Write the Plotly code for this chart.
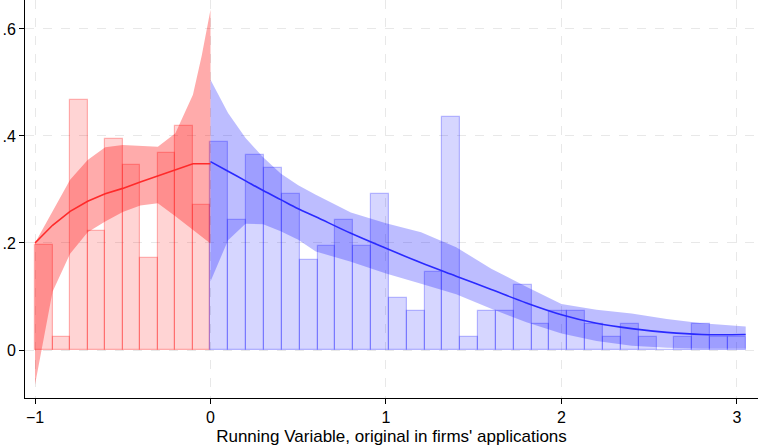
import numpy as np
import plotly.graph_objects as go

# ---- data ----
left_bin_start = -1.0
left_bin_width = 0.1
left_bars = [0.197, 0.024, 0.468, 0.222, 0.394, 0.345, 0.172, 0.369, 0.418, 0.271]

right_bin_start = 0.0
right_bin_width = 3.05 / 30
right_bars = [0.389, 0.242, 0.364, 0.340, 0.291, 0.169, 0.194, 0.243, 0.194, 0.291,
              0.097, 0.073, 0.146, 0.436, 0.024, 0.073, 0.073, 0.121, 0.049, 0.073,
              0.073, 0.049, 0.024, 0.049, 0.024, 0.0, 0.024, 0.049, 0.024, 0.024]

red_x = [-1.0, -0.9, -0.8, -0.7, -0.6, -0.5, -0.4, -0.3, -0.2, -0.1, -0.05, 0.0]
red_fit = [0.200, 0.233, 0.259, 0.278, 0.292, 0.302, 0.314, 0.325, 0.337, 0.348, 0.348, 0.348]
red_hi = [0.200, 0.259, 0.318, 0.355, 0.379, 0.383, 0.381, 0.380, 0.405, 0.477, 0.550, 0.636]
red_lo = [-0.065, 0.109, 0.180, 0.220, 0.240, 0.258, 0.270, 0.274, 0.250, 0.224, 0.212, 0.199]

blue_x = [0.0, 0.1, 0.2, 0.3, 0.4, 0.5, 0.6, 0.8, 1.0, 1.2, 1.4, 1.6, 1.8, 2.0, 2.2, 2.4, 2.6, 2.8, 3.05]
blue_fit = [0.352, 0.334, 0.316, 0.298, 0.281, 0.264, 0.249, 0.218, 0.190, 0.163, 0.138, 0.113,
            0.088, 0.066, 0.050, 0.040, 0.033, 0.029, 0.029]
blue_hi = [0.505, 0.443, 0.396, 0.360, 0.330, 0.308, 0.290, 0.257, 0.237, 0.220, 0.192, 0.152,
           0.118, 0.086, 0.075, 0.068, 0.058, 0.050, 0.044]
blue_lo = [0.128, 0.205, 0.236, 0.235, 0.222, 0.206, 0.184, 0.165, 0.143, 0.124, 0.104, 0.077,
           0.052, 0.031, 0.017, 0.008, 0.004, 0.003, 0.003]

x_ticks = [-1, 0, 1, 2, 3]
y_ticks = [0, 0.2, 0.4, 0.6]
y_ticktext = ["0", ".2", ".4", ".6"]
x_title = "Running Variable, original in firms' applications"

# ---- figure ----
left_centers = left_bin_start + left_bin_width * (np.arange(len(left_bars)) + 0.5)
right_centers = right_bin_start + right_bin_width * (np.arange(len(right_bars)) + 0.5)

fig = go.Figure()

fig.add_trace(go.Bar(x=left_centers, y=left_bars, width=left_bin_width,
                     marker=dict(color="rgba(255,0,0,0.17)",
                                 line=dict(color="rgba(255,0,0,0.28)", width=1.2)),
                     showlegend=False))
fig.add_trace(go.Bar(x=right_centers, y=right_bars, width=right_bin_width,
                     marker=dict(color="rgba(0,0,255,0.16)",
                                 line=dict(color="rgba(0,0,255,0.25)", width=1.2)),
                     showlegend=False))

fig.add_trace(go.Scatter(x=red_x + red_x[::-1], y=red_hi + red_lo[::-1], fill="toself",
                         fillcolor="rgba(255,0,0,0.33)", line=dict(width=0),
                         mode="lines", showlegend=False, hoverinfo="skip"))
fig.add_trace(go.Scatter(x=blue_x + blue_x[::-1], y=blue_hi + blue_lo[::-1], fill="toself",
                         fillcolor="rgba(0,0,255,0.26)", line=dict(width=0),
                         mode="lines", showlegend=False, hoverinfo="skip"))

fig.add_trace(go.Scatter(x=red_x, y=red_fit, mode="lines",
                         line=dict(color="#ff2a2a", width=1.6), showlegend=False))
fig.add_trace(go.Scatter(x=blue_x, y=blue_fit, mode="lines", line_shape="spline",
                         line=dict(color="#2a2aff", width=1.6), showlegend=False))

fig.update_layout(
    width=760, height=446,
    margin=dict(l=25, r=2, t=0, b=48),
    paper_bgcolor="white", plot_bgcolor="white",
    barmode="overlay", bargap=0,
    font=dict(family="Liberation Sans, Arial, sans-serif", size=16, color="black"),
)
fig.update_xaxes(range=[-1.057, 3.12], tickvals=x_ticks, ticks="outside", ticklen=5,
                 tickcolor="black", showline=True, linecolor="black", linewidth=1,
                 showgrid=True, gridcolor="#e8e8e8", griddash="dash", gridwidth=1,
                 zeroline=False, title=dict(text=x_title, font=dict(size=17), standoff=4))
fig.update_yaxes(range=[-0.0897, 0.654], tickvals=y_ticks, ticktext=y_ticktext,
                 ticks="outside", ticklen=5, tickcolor="black", showline=True,
                 linecolor="black", linewidth=1, showgrid=True, gridcolor="#e8e8e8",
                 griddash="dash", gridwidth=1, zeroline=False)

fig.write_html("out.html")
